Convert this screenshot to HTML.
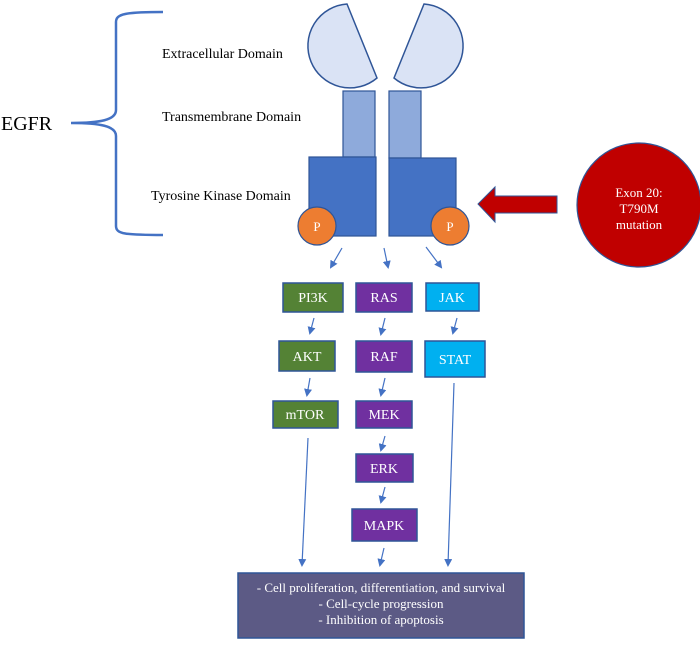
<!DOCTYPE html>
<html><head><meta charset="utf-8"><style>body{margin:0;background:#fff}</style></head><body>
<svg width="700" height="640" viewBox="0 0 700 640" xmlns="http://www.w3.org/2000/svg" font-family="Liberation Serif, serif">
<defs><marker id="a" markerWidth="8" markerHeight="8" refX="6" refY="4" orient="auto" markerUnits="userSpaceOnUse"><path d="M0,0 L8,4 L0,8 Z" fill="#4472c4"/></marker></defs>
<path d="M163 12 C125 12 116 14 116 22 L116 110 C116 120 100 123 71 123 C100 123 116 126 116 136 L116 226 C116 234 125 235 163 235" fill="none" stroke="#4472c4" stroke-width="2.5"/>
<text x="1" y="130" font-size="20">EGFR</text>
<text x="162" y="58" font-size="14">Extracellular Domain</text>
<text x="162" y="121" font-size="14">Transmembrane Domain</text>
<text x="151" y="200" font-size="14">Tyrosine Kinase Domain</text>
<path d="M347 4 A42 42 0 1 0 377 78 Z" fill="#dae3f5" stroke="#2f5597" stroke-width="1.5"/>
<path d="M424 4 A42 42 0 1 1 394 78 Z" fill="#dae3f5" stroke="#2f5597" stroke-width="1.5"/>
<rect x="343" y="91" width="32" height="66" fill="#8eaadb" stroke="#2f5597" stroke-width="1.2"/>
<rect x="389" y="91" width="32" height="67" fill="#8eaadb" stroke="#2f5597" stroke-width="1.2"/>
<rect x="309" y="157" width="67" height="79" fill="#4472c4" stroke="#2f5597" stroke-width="1.2"/>
<rect x="389" y="158" width="67" height="78" fill="#4472c4" stroke="#2f5597" stroke-width="1.2"/>
<circle cx="317" cy="226" r="19" fill="#ed7d31" stroke="#2f5597" stroke-width="1.2"/>
<circle cx="450" cy="226" r="19" fill="#ed7d31" stroke="#2f5597" stroke-width="1.2"/>
<text x="317" y="231" font-size="13" fill="#fff" text-anchor="middle">P</text>
<text x="450" y="231" font-size="13" fill="#fff" text-anchor="middle">P</text>
<path d="M557 196 L495 196 L495 187 L478 204 L495 222 L495 213 L557 213 Z" fill="#c00000" stroke="#2f5597" stroke-width="1"/>
<circle cx="639" cy="205" r="62" fill="#c00000" stroke="#2f5597" stroke-width="1.2"/>
<g font-size="13" fill="#fff" text-anchor="middle"><text x="639" y="197">Exon 20:</text><text x="639" y="213">T790M</text><text x="639" y="229">mutation</text></g>
<g stroke="#4472c4" stroke-width="1.2" marker-end="url(#a)">
<line x1="342" y1="248" x2="331" y2="267"/>
<line x1="384" y1="248" x2="388" y2="267"/>
<line x1="426" y1="247" x2="441" y2="267"/>
<line x1="314" y1="318" x2="310" y2="333"/>
<line x1="385" y1="318" x2="381" y2="334"/>
<line x1="457" y1="318" x2="453" y2="333"/>
<line x1="310" y1="378" x2="307" y2="395"/>
<line x1="385" y1="378" x2="381" y2="395"/>
<line x1="385" y1="436" x2="381" y2="450"/>
<line x1="385" y1="487" x2="381" y2="502"/>
<line x1="308" y1="438" x2="302" y2="565"/>
<line x1="384" y1="548" x2="380" y2="565"/>
<line x1="454" y1="383" x2="448" y2="565"/>
</g>
<g stroke="#2f5597" stroke-width="1.5">
<rect x="283" y="283" width="60" height="29" fill="#548235"/>
<rect x="279" y="341" width="56" height="30" fill="#548235"/>
<rect x="273" y="401" width="65" height="27" fill="#548235"/>
<rect x="356" y="283" width="56" height="29" fill="#7030a0"/>
<rect x="356" y="341" width="56" height="31" fill="#7030a0"/>
<rect x="356" y="401" width="56" height="27" fill="#7030a0"/>
<rect x="356" y="454" width="57" height="28" fill="#7030a0"/>
<rect x="352" y="509" width="65" height="32" fill="#7030a0"/>
<rect x="426" y="283" width="53" height="28" fill="#00b0f0"/>
<rect x="425" y="341" width="60" height="36" fill="#00b0f0"/>
<rect x="238" y="573" width="286" height="65" fill="#5c5a85"/>
</g>
<g font-size="14" fill="#fff" text-anchor="middle">
<text x="313" y="302">PI3K</text><text x="307" y="361">AKT</text><text x="305" y="419">mTOR</text>
<text x="384" y="302">RAS</text><text x="384" y="361">RAF</text><text x="384" y="419">MEK</text>
<text x="384" y="473">ERK</text><text x="384" y="530">MAPK</text>
<text x="452" y="302">JAK</text><text x="455" y="364">STAT</text>
</g>
<g font-size="13" fill="#fff" text-anchor="middle">
<text x="381" y="592">- Cell proliferation, differentiation, and survival</text>
<text x="381" y="608">- Cell-cycle progression</text>
<text x="381" y="624">- Inhibition of apoptosis</text>
</g>
</svg>
</body></html>
